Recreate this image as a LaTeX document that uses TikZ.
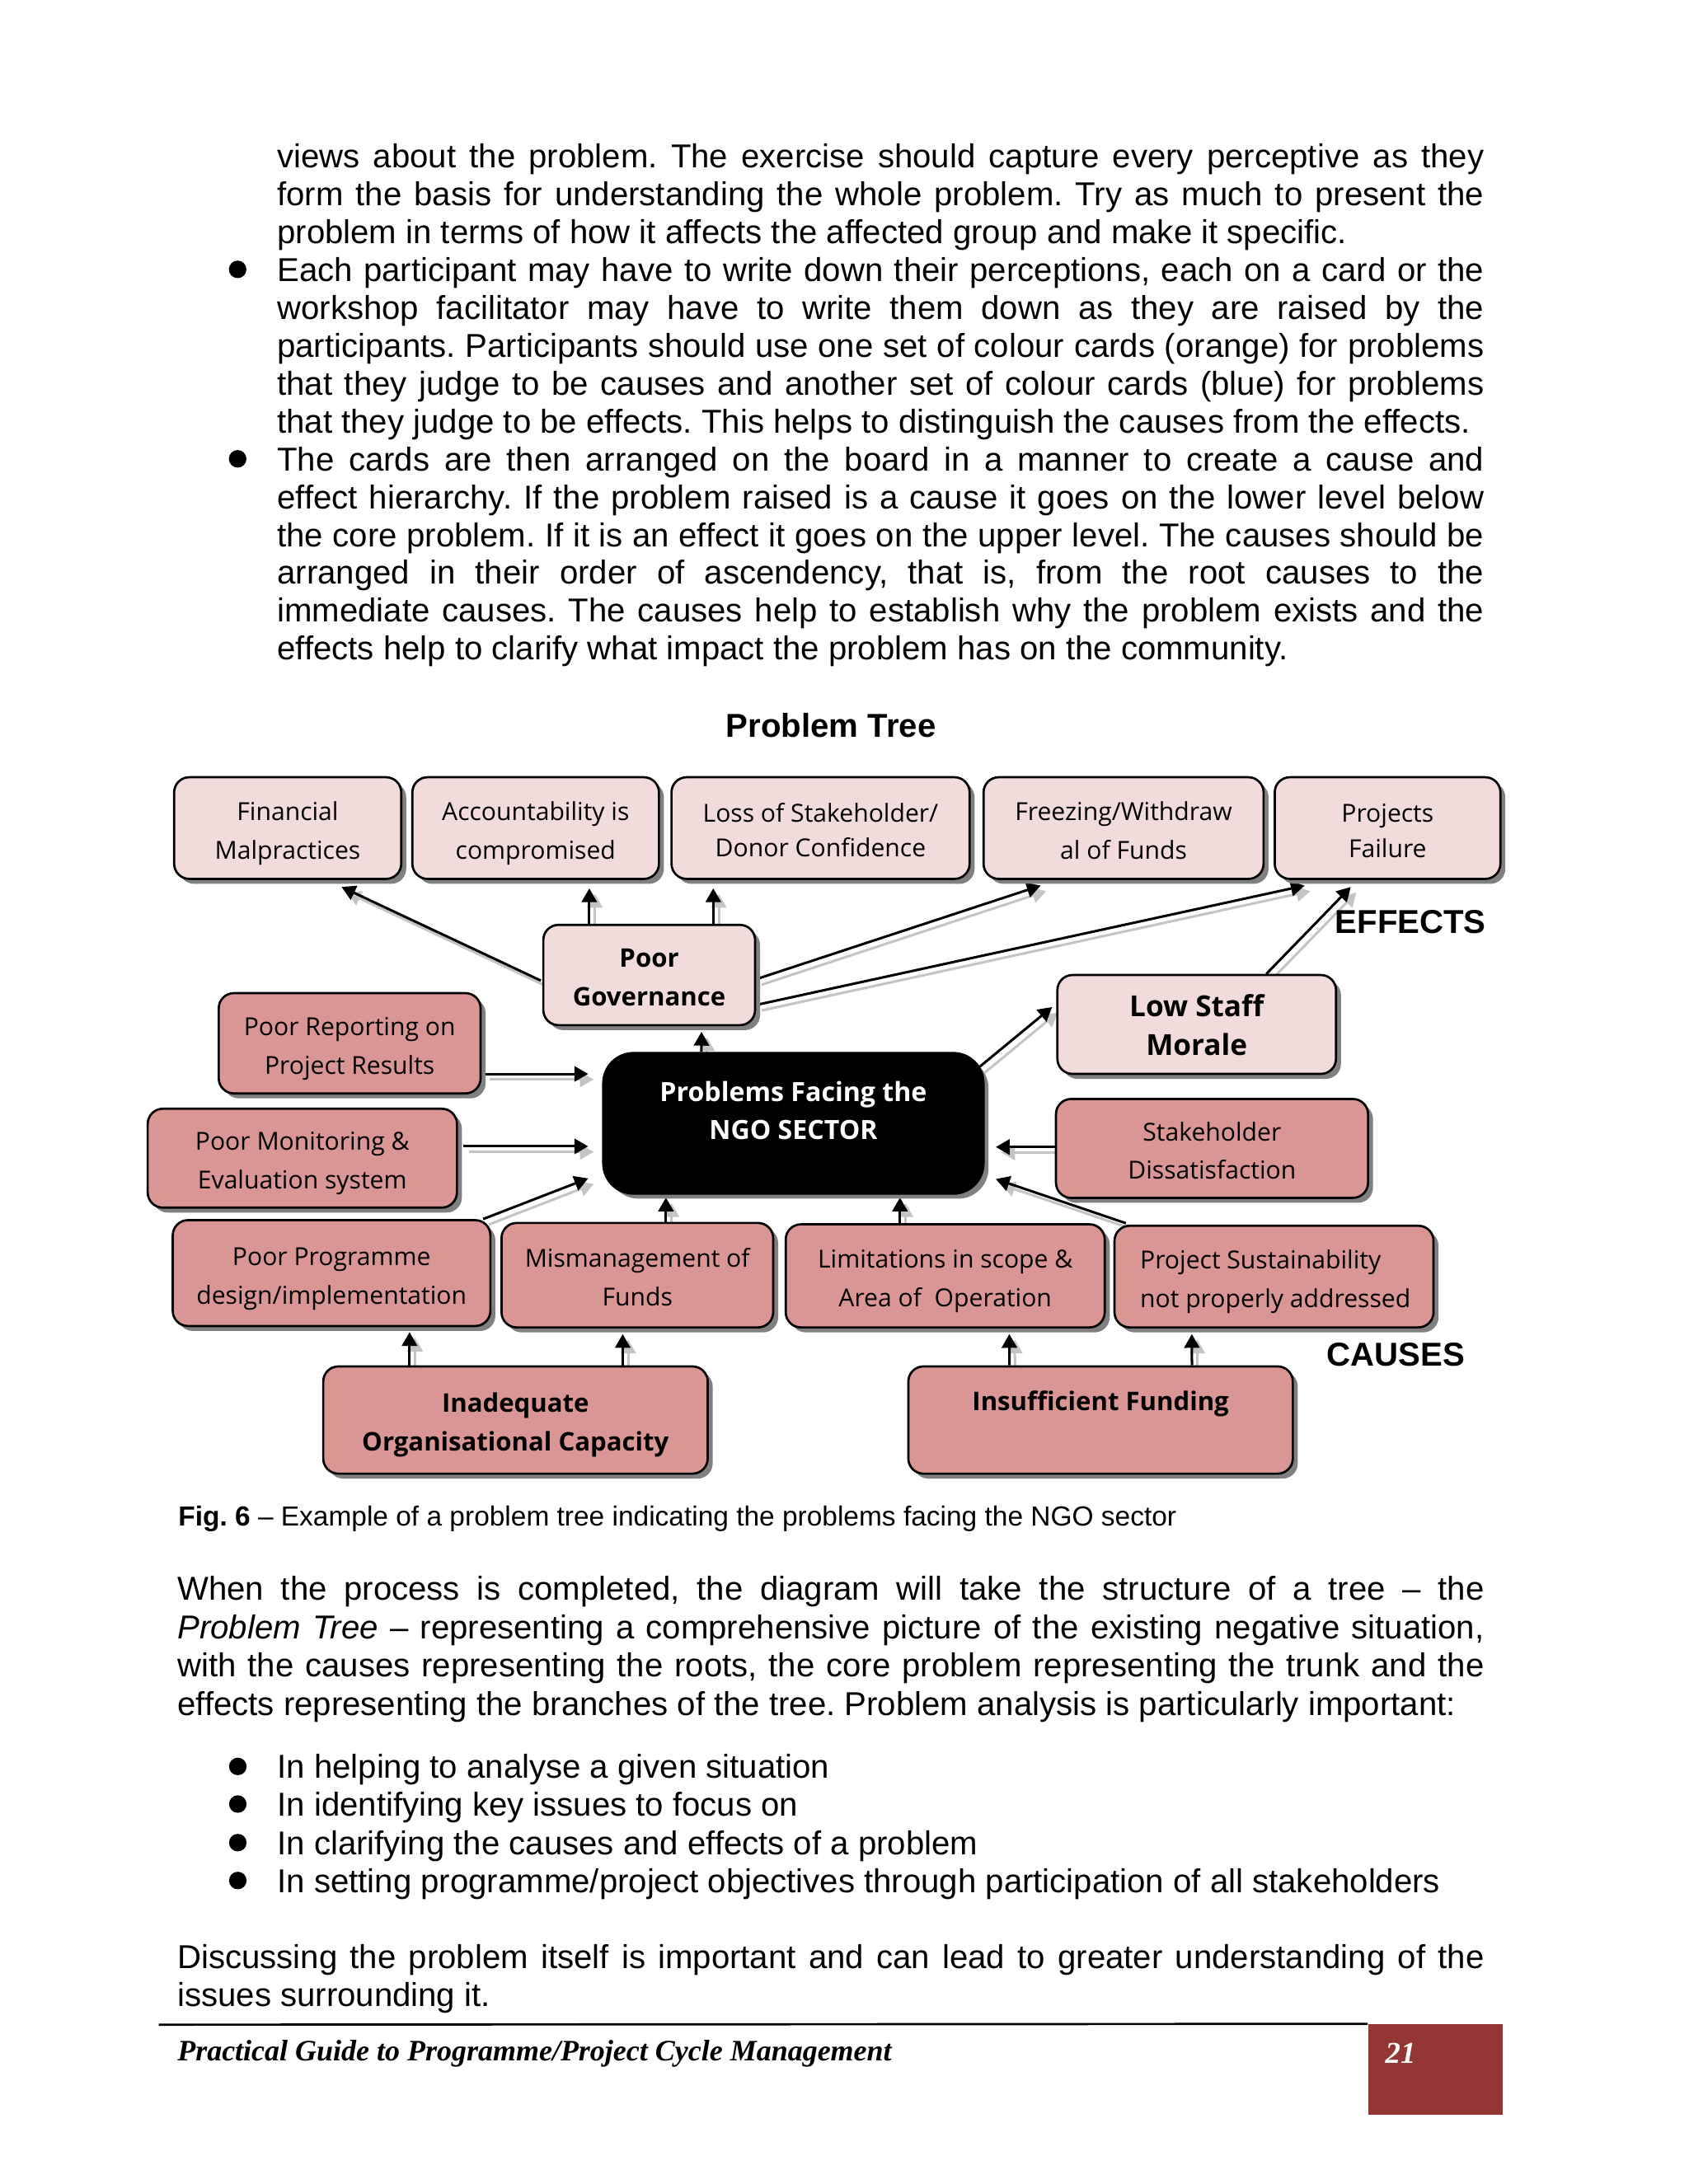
\documentclass[tikz,border=0pt]{standalone}
\usepackage{fontspec}
\setmainfont{Liberation Sans}
\newfontfamily\comicfont{Open Sans}
\newfontfamily\footfont{Liberation Serif}
\usetikzlibrary{arrows.meta,shadows}
\definecolor{effcol}{HTML}{F2DCDB}
\definecolor{caucol}{HTML}{D99694}
\definecolor{footred}{HTML}{943634}
\definecolor{boxshadow}{HTML}{808080}
\definecolor{arrshadowcol}{HTML}{C4C4C4}
\newlength\pxu \setlength\pxu{0.505pt}
\pgfdeclarelayer{bg}
\pgfsetlayers{bg,main}
\frenchspacing
\newcommand\conn[2]{%
  \draw[arrsh,transform canvas={xshift=2pt,yshift=-2pt}] #1 -- #2;
  \draw[arr] #1 -- #2;}
\newcommand\bt[1]{\raisebox{-1.4pt}[\height][\depth]{\begin{tabular}{@{}c@{}}#1\end{tabular}}}
\begin{document}
\begin{tikzpicture}[x=0.505pt,y=-0.505pt,
  box/.style n args={2}{draw=black, line width=0.8pt, rounded corners=5.5pt,
    minimum width=#1*\pxu, minimum height=#2*\pxu, inner sep=0pt,
    font=\comicfont\fontsize{9}{14}\selectfont,
    drop shadow={shadow xshift=1.8pt, shadow yshift=-1.8pt, fill=boxshadow, opacity=1}},
  eff/.style={fill=effcol},
  cau/.style={fill=caucol},
  bld/.style={font=\comicfont\bfseries\fontsize{9.3}{14}\selectfont},
  arr/.style={draw=black, line width=0.9pt, -{Triangle[length=5pt,width=5.5pt]}},
  arrsh/.style={draw=arrshadowcol, line width=0.9pt, -{Triangle[length=5pt,width=5.5pt]}},
  bodyt/.style={anchor=base west, inner sep=0pt, font=\fontsize{12}{13.7}\selectfont},
  bul/.style={circle, fill=black, inner sep=0pt, minimum size=12.6*\pxu},
  lbl/.style={anchor=base west, inner sep=0pt, font=\bfseries\fontsize{12}{14}\selectfont}
]
\useasboundingbox (0,0) rectangle (1211.8,1568);

% ---------- body text (top) ----------
\node[bodyt] (t1) at (198.6,120.3) {\makebox[437.5pt][s]{views about the problem. The exercise should capture every perceptive as they}};
\node[bodyt] (t2) at (198.6,147.5) {\makebox[437.5pt][s]{form the basis for understanding the whole problem. Try as much to present the}};
\node[bodyt] (t3) at (198.6,174.7) {problem in terms of how it affects the affected group and make it specific.};
\node[bul] (b1) at (170.6,193.4) {};
\node[bodyt] (t4) at (198.6,201.9) {\makebox[437.5pt][s]{Each participant may have to write down their perceptions, each on a card or the}};
\node[bodyt] (t5) at (198.6,229.1) {\makebox[437.5pt][s]{workshop facilitator may have to write them down as they are raised by the}};
\node[bodyt] (t6) at (198.6,256.3) {\makebox[437.5pt][s]{participants. Participants should use one set of colour cards (orange) for problems}};
\node[bodyt] (t7) at (198.6,283.5) {\makebox[437.5pt][s]{that they judge to be causes and another set of colour cards (blue) for problems}};
\node[bodyt] (t8) at (198.6,310.7) {that they judge to be effects. This helps to distinguish the causes from the effects.};
\node[bul] (b2) at (170.6,329.4) {};
\node[bodyt] (t9) at (198.6,337.9) {\makebox[437.5pt][s]{The cards are then arranged on the board in a manner to create a cause and}};
\node[bodyt] (t10) at (198.6,365.1) {\makebox[437.5pt][s]{effect hierarchy. If the problem raised is a cause it goes on the lower level below}};
\node[bodyt] (t11) at (198.6,392.3) {\makebox[437.5pt][s]{the core problem. If it is an effect it goes on the upper level. The causes should be}};
\node[bodyt] (t12) at (198.6,419.5) {\makebox[437.5pt][s]{arranged in their order of ascendency, that is, from the root causes to the}};
\node[bodyt] (t13) at (198.6,446.7) {\makebox[437.5pt][s]{immediate causes. The causes help to establish why the problem exists and the}};
\node[bodyt] (t14) at (198.6,473.9) {effects help to clarify what impact the problem has on the community.};

% ---------- title ----------
\node[anchor=base, inner sep=0pt, font=\bfseries\fontsize{12}{14}\selectfont] (title) at (596.5,529.5) {Problem Tree};

% ---------- effects ----------
\node[box={163}{73}, eff] (fin) at (206.5,594.5) {\bt{Financial\\Malpractices}};
\node[box={177}{73}, eff] (acc) at (384.5,594.5) {\bt{Accountability is\\compromised}};
\node[box={214}{73}, eff] (loss) at (589,594.5) {\bt{Loss of Stakeholder/\\[-1.5pt]Donor Confidence}};
\node[box={201}{73}, eff] (frz) at (806.5,594.5) {\bt{Freezing/Withdraw\\al of Funds}};
\node[box={162}{73}, eff] (pf) at (996,594.5) {\bt{Projects\\[-1pt]Failure}};
\node[box={152}{72}, eff, bld] (pg) at (466,700) {\bt{Poor\\Governance}};
\node[box={200}{71}, eff, font=\comicfont\bfseries\fontsize{10.5}{14}\selectfont] (lsm) at (859,735.5) {\bt{Low Staff\\Morale}};

% ---------- core ----------
\node[box={273}{101}, fill=black, rounded corners=11pt] (ngo) at (569.5,806.5) {};
\node[inner sep=0pt, align=center, text=white, font=\comicfont\bfseries\fontsize{9.6}{13.7}\selectfont] (ngot) at (569.5,797.5) {Problems Facing the\\NGO SECTOR};

% ---------- causes ----------
\node[box={188}{72}, cau] (pr) at (251,749) {\bt{Poor Reporting on\\Project Results}};
\node[box={222}{71}, cau] (pm) at (217,831.5) {\bt{Poor Monitoring \&\\Evaluation system}};
\node[box={224}{71}, cau] (sd) at (870,824.5) {\bt{Stakeholder\\Dissatisfaction}};
\node[box={228}{76}, cau] (pp) at (238,914) {\bt{Poor Programme\\design/implementation}};
\node[box={195}{75}, cau] (mf) at (457.5,915.5) {\bt{Mismanagement of\\Funds}};
\node[box={229}{74}, cau] (lim) at (678.5,916) {\bt{Limitations in scope \&\\Area of~ Operation}};
\node[box={229}{73}, cau] (ps) at (914.5,916.5) {};
\node[anchor=west, inner sep=0pt, align=left, font=\comicfont\fontsize{9}{14}\selectfont] (pst) at (818,920) {Project Sustainability\\not properly addressed};
\node[box={276}{77}, cau, bld] (ioc) at (370,1019.5) {\bt{Inadequate\\Organisational Capacity}};
\node[box={276}{77}, cau] (insf) at (790,1019.5) {};
\node[inner sep=0pt, bld] (insft) at (790,1008) {Insufficient Funding};

% ---------- labels ----------
\node[lbl] (efl) at (958,670) {EFFECTS};
\node[lbl] (cal) at (952,980.5) {CAUSES};

% ---------- connectors ----------
\begin{pgfonlayer}{bg}
\fill[white] (0,0) rectangle (1211.8,1568);
\conn{([shift={(-1,4)}]pg.west)}{([shift={(38.7,5)}]fin.south)}
\conn{([shift={(-43,0)}]pg.north)}{([shift={(38.5,6)}]acc.south)}
\conn{([shift={(46,0)}]pg.north)}{([shift={(-77,6)}]loss.south)}
\conn{([shift={(0,3)}]pg.east)}{([shift={(-59.5,4)}]frz.south)}
\conn{([shift={(0,21.5)}]pg.east)}{([shift={(-59.5,4)}]pf.south)}
\conn{([shift={(50,0)}]lsm.north)}{([shift={(-26.4,5)}]pf.south)}
\conn{([shift={(-4,11)}]ngo.north east)}{([shift={(-3,-12.5)}]lsm.west)}
\conn{([shift={(-66,0)}]ngo.north)}{([shift={(37.6,4)}]pg.south)}
\conn{([shift={(2,22)}]pr.east)}{([shift={(-10,-35.5)}]ngo.west)}
\conn{([shift={(4,-8.5)}]pm.east)}{([shift={(-10,16.5)}]ngo.west)}
\conn{([shift={(-6,0)}]pp.north east)}{([shift={(-10,39.5)}]ngo.west)}
\conn{([shift={(20.5,0)}]mf.north)}{([shift={(-91.5,2)}]ngo.south)}
\conn{([shift={(-32.5,0)}]lim.north)}{([shift={(76.5,2)}]ngo.south)}
\conn{([shift={(0,-1)}]sd.west)}{([shift={(8,17)}]ngo.east)}
\conn{([shift={(9,-1)}]ps.north west)}{([shift={(8,40)}]ngo.east)}
\conn{([shift={(-76,0)}]ioc.north)}{([shift={(56,3.6)}]pp.south)}
\conn{([shift={(77,0)}]ioc.north)}{([shift={(-10.5,4)}]mf.south)}
\conn{([shift={(-65.4,0)}]insf.north)}{([shift={(46,4)}]lim.south)}
\conn{([shift={(65.6,0)}]insf.north)}{([shift={(-59,4)}]ps.south)}
\end{pgfonlayer}

% ---------- caption ----------
\node[anchor=base west, inner sep=0pt, font=\fontsize{10}{12}\selectfont] (cap) at (127.6,1095.5) {\textbf{Fig. 6} – Example of a problem tree indicating the problems facing the NGO sector};

% ---------- lower text ----------
\node[bodyt] (u1) at (127,1149) {\makebox[473.7pt][s]{When the process is completed, the diagram will take the structure of a tree – the}};
\node[bodyt] (u2) at (127,1176.5) {\makebox[473.7pt][s]{\textit{Problem Tree} – representing a comprehensive picture of the existing negative situation,}};
\node[bodyt] (u3) at (127,1204) {\makebox[473.7pt][s]{with the causes representing the roots, the core problem representing the trunk and the}};
\node[bodyt] (u4) at (127,1231.4) {effects representing the branches of the tree. Problem analysis is particularly important:};
\node[bul] (b3) at (170.7,1268.2) {};
\node[bodyt] (v1) at (198.7,1276.7) {In helping to analyse a given situation};
\node[bul] (b4) at (170.7,1295.2) {};
\node[bodyt] (v2) at (198.7,1303.7) {In identifying key issues to focus on};
\node[bul] (b5) at (170.7,1322.9) {};
\node[bodyt] (v3) at (198.7,1331.4) {In clarifying the causes and effects of a problem};
\node[bul] (b6) at (170.7,1350.1) {};
\node[bodyt] (v4) at (198.7,1358.6) {In setting programme/project objectives through participation of all stakeholders};
\node[bodyt] (w1) at (127,1413.2) {\makebox[473.7pt][s]{Discussing the problem itself is important and can lead to greater understanding of the}};
\node[bodyt] (w2) at (127,1440.4) {issues surrounding it.};

% ---------- footer ----------
\coordinate (rl) at (114,1453.6);
\node[draw=none, fill=footred, minimum width=96.3*\pxu, minimum height=65*\pxu, inner sep=0pt, anchor=north west] (pgbox) at (981.7,1453) {};
\draw[line width=0.8pt] (rl) -- (pgbox.north west);
\node[anchor=base west, inner sep=0pt, font=\footfont\bfseries\itshape\fontsize{10.75}{13}\selectfont] (foot) at (127,1479.3) {Practical Guide to Programme/Project Cycle Management};
\node[anchor=base west, inner sep=0pt, text=white, font=\footfont\bfseries\itshape\fontsize{11}{13}\selectfont] (pnum) at (994,1481) {21};
\end{tikzpicture}
\end{document}
